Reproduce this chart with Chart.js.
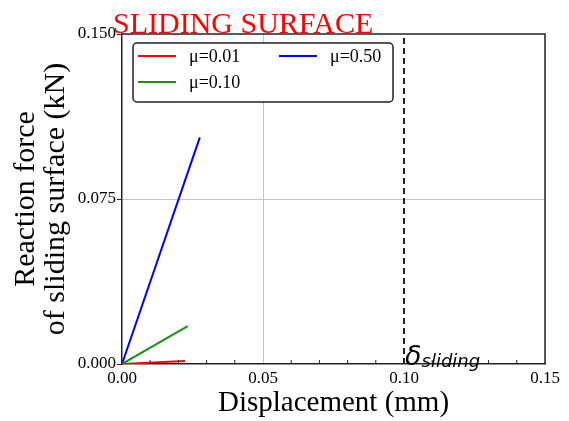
<!DOCTYPE html>
<html>
<head>
<meta charset="utf-8">
<script src="https://cdn.jsdelivr.net/npm/chart.js@4.4.1/dist/chart.umd.min.js"></script>
<style>
  html, body { margin: 0; padding: 0; background: #fff; }
  #box { width: 569px; height: 421px; }
</style>
</head>
<body>
<div id="box"><canvas id="c"></canvas></div>
<script>
// series: displacement (mm) / reaction force (kN)
var labels = ['μ=0.01', 'μ=0.10', 'μ=0.50'];
var dispRed = [0, 0.0223];
var forceRed = [0, 0.0014];
var dispGreen = [0, 0.0233];
var forceGreen = [0, 0.0172];
var dispBlue = [0, 0.0276];
var forceBlue = [0, 0.103];
var slidingDisp = 0.10;

var xTicks = [0, 0.05, 0.10, 0.15];
var xTickLabels = ['0.00', '0.05', '0.10', '0.15'];
var yTicks = [0, 0.075, 0.15];
var yTickLabels = ['0.000', '0.075', '0.150'];

var serif = '"Liberation Serif", "Times New Roman", serif';

function pts(xs, ys) {
  return xs.map(function (x, i) { return { x: x, y: ys[i] }; });
}

// frame, minor ticks, legend, title and delta label
var decor = {
  id: 'decor',
  afterDatasetsDraw: function (chart) {
    var c = chart.ctx, a = chart.chartArea;
    var xs = chart.scales.x, ys = chart.scales.y;
    c.save();
    // top + right border
    c.strokeStyle = '#222';
    c.lineWidth = 1.5;
    c.beginPath();
    c.moveTo(a.left, a.top);
    c.lineTo(a.right, a.top);
    c.lineTo(a.right, a.bottom);
    c.stroke();
    // minor ticks on x axis, pointing inward
    c.lineWidth = 1;
    c.beginPath();
    for (var i = 1; i < 15; i++) {
      if (i % 5 === 0) continue;
      var px = xs.getPixelForValue(i * 0.01);
      c.moveTo(px, a.bottom);
      c.lineTo(px, a.bottom - 4);
    }
    c.stroke();

    // legend (two columns, filled column-wise)
    var lx = 133, ly = 43, lw = 260, lh = 59;
    c.fillStyle = '#fff';
    c.strokeStyle = '#222';
    c.lineWidth = 1.5;
    c.beginPath();
    c.roundRect(lx, ly, lw, lh, 4);
    c.fill();
    c.stroke();
    var slots = [[138, 56], [138, 82], [279, 56]];
    c.font = '18px ' + serif;
    c.textBaseline = 'middle';
    c.textAlign = 'left';
    for (var k = 0; k < 3; k++) {
      var ds = chart.data.datasets[k];
      var s = slots[k];
      c.strokeStyle = ds.borderColor;
      c.lineWidth = 2;
      c.beginPath();
      c.moveTo(s[0], s[1]);
      c.lineTo(s[0] + 38, s[1]);
      c.stroke();
      c.fillStyle = '#000';
      c.fillText(ds.label, s[0] + 51, s[1] + 1);
    }

    // title
    c.fillStyle = '#ff0000';
    c.font = '30px ' + serif;
    c.textBaseline = 'alphabetic';
    c.fillText('SLIDING SURFACE', 113, 33);

    // delta sliding label
    var dx = xs.getPixelForValue(slidingDisp) + 1;
    var by = ys.getPixelForValue(0) + 1;
    c.fillStyle = '#000';
    c.font = 'italic 27px "DejaVu Sans", sans-serif';
    c.fillText('δ', dx, by);
    var w = c.measureText('δ').width;
    c.font = 'italic 18px "DejaVu Sans", sans-serif';
    c.fillText('sliding', dx + w, by + 2);
    c.restore();
  }
};

new Chart(document.getElementById('c').getContext('2d'), {
  type: 'scatter',
  data: {
    datasets: [
      { label: labels[0], data: pts(dispRed, forceRed), borderColor: '#ff0000' },
      { label: labels[1], data: pts(dispGreen, forceGreen), borderColor: '#1e8c1e' },
      { label: labels[2], data: pts(dispBlue, forceBlue), borderColor: '#0000ff' },
      { label: 'sliding', data: pts([slidingDisp, slidingDisp], [yTicks[0], yTicks[2]]),
        borderColor: '#222', borderWidth: 2, borderDash: [6, 4] }
    ].map(function (d) {
      d.showLine = true;
      d.pointRadius = 0;
      d.pointHoverRadius = 0;
      if (!d.borderWidth) d.borderWidth = 2;
      d.fill = false;
      return d;
    })
  },
  options: {
    responsive: true,
    maintainAspectRatio: false,
    animation: false,
    events: [],
    layout: { padding: { top: 34, right: 24, left: 0, bottom: 0 } },
    plugins: { legend: { display: false }, tooltip: { enabled: false } },
    scales: {
      x: {
        type: 'linear',
        min: xTicks[0],
        max: xTicks[xTicks.length - 1],
        afterBuildTicks: function (s) { s.ticks = xTicks.map(function (v) { return { value: v }; }); },
        afterFit: function (s) { s.height = 57; },
        ticks: {
          autoSkip: false,
          maxRotation: 0,
          padding: 4,
          color: '#000',
          font: { family: serif, size: 17 },
          callback: function (v, i) { return xTickLabels[i]; }
        },
        grid: {
          drawTicks: false,
          color: function (ctx) { return ctx.tick && ctx.tick.value === 0.05 ? '#c4c4c4' : 'rgba(0,0,0,0)'; },
          lineWidth: 1
        },
        border: { color: '#222', width: 1.5 },
        title: {
          display: true,
          text: 'Displacement (mm)',
          color: '#000',
          font: { family: serif, size: 29 },
          padding: { top: 0, bottom: 0 }
        }
      },
      y: {
        type: 'linear',
        min: yTicks[0],
        max: yTicks[yTicks.length - 1],
        afterBuildTicks: function (s) { s.ticks = yTicks.map(function (v) { return { value: v }; }); },
        afterFit: function (s) { s.width = 122; },
        ticks: {
          autoSkip: false,
          padding: 1,
          color: '#000',
          font: { family: serif, size: 17 },
          callback: function (v, i) { return yTickLabels[i]; }
        },
        grid: {
          tickLength: 5,
          tickColor: '#222',
          color: function (ctx) { return ctx.tick && ctx.tick.value === 0.075 ? '#c4c4c4' : 'rgba(0,0,0,0)'; },
          lineWidth: 1
        },
        border: { color: '#222', width: 1.5 },
        title: {
          display: true,
          text: ['Reaction force', 'of sliding surface (kN)'],
          color: '#000',
          font: { family: serif, size: 30, lineHeight: 1.0 },
          padding: { top: 11, bottom: 0 }
        }
      }
    }
  },
  plugins: [decor]
});
</script>
</body>
</html>
